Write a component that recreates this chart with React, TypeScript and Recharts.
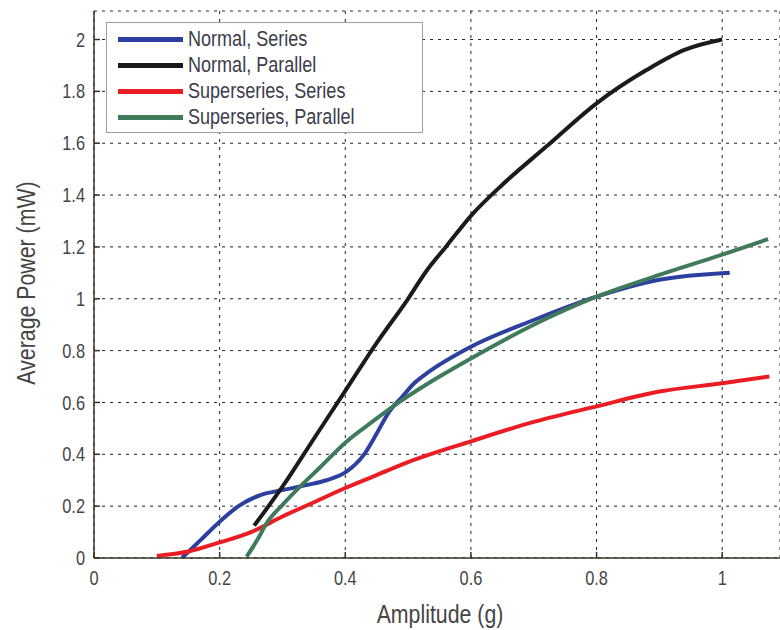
import React from 'react';
import { LineChart, Line, XAxis, YAxis, CartesianGrid, Legend } from 'recharts';

const FONT = '"Liberation Sans", Arial, sans-serif';
const NARROW = 0.82;

const xTicks = [0, 0.2, 0.4, 0.6, 0.8, 1];
const yTicks = [0, 0.2, 0.4, 0.6, 0.8, 1, 1.2, 1.4, 1.6, 1.8, 2];

const seriesNames = ['Normal, Series', 'Normal, Parallel', 'Superseries, Series', 'Superseries, Parallel'];
const seriesColors = ['#2d40a0', '#1b1b1b', '#ec1c24', '#3f7b5a'];

const normalSeriesAmp = [0.14, 0.17, 0.2, 0.23, 0.265, 0.3, 0.34, 0.37, 0.4, 0.43, 0.45, 0.47, 0.49, 0.51, 0.53, 0.6, 0.7, 0.8, 0.9, 1.012];
const normalSeriesPow = [0, 0.07, 0.14, 0.2, 0.243, 0.262, 0.282, 0.3, 0.33, 0.4, 0.48, 0.565, 0.62, 0.675, 0.713, 0.815, 0.918, 1.008, 1.073, 1.1];

const normalParallelAmp = [0.255, 0.3, 0.35, 0.4, 0.45, 0.5, 0.53, 0.56, 0.6, 0.65, 0.72, 0.8, 0.88, 0.94, 1.0];
const normalParallelPow = [0.125, 0.275, 0.46, 0.645, 0.83, 1.0, 1.11, 1.2, 1.32, 1.44, 1.587, 1.754, 1.883, 1.96, 2.0];

const superSeriesAmp = [0.1, 0.15, 0.2, 0.25, 0.3, 0.35, 0.4, 0.45, 0.5, 0.6, 0.7, 0.8, 0.9, 1.0, 1.075];
const superSeriesPow = [0.008, 0.025, 0.06, 0.1, 0.16, 0.215, 0.27, 0.32, 0.37, 0.45, 0.525, 0.585, 0.642, 0.674, 0.7];

const superParallelAmp = [0.243, 0.26, 0.275, 0.3, 0.33, 0.36, 0.4, 0.44, 0.487, 0.55, 0.6, 0.7, 0.8, 0.9, 1.0, 1.073];
const superParallelPow = [0.005, 0.07, 0.135, 0.205, 0.28, 0.35, 0.445, 0.52, 0.603, 0.7, 0.77, 0.9, 1.008, 1.092, 1.17, 1.23];

const zip = (xs: number[], ys: number[]) => xs.map((x, i) => ({ x, y: ys[i] }));

const seriesData = [
  zip(normalSeriesAmp, normalSeriesPow),
  zip(normalParallelAmp, normalParallelPow),
  zip(superSeriesAmp, superSeriesPow),
  zip(superParallelAmp, superParallelPow),
];

const AXIS_COLOR = '#3b3426';
const TEXT_COLOR = '#454545';

const fmt = (v: number) => String(Number(Number(v).toFixed(1)));

const XTick = (props: any) => {
  const { x, y, payload } = props;
  return (
    <g transform={`translate(${x},${y}) scale(${NARROW},1)`}>
      <text x={0} y={0} dy="0.71em" textAnchor="middle" fontSize={20} fontFamily={FONT} fill={TEXT_COLOR}>
        {fmt(payload.value)}
      </text>
    </g>
  );
};

const YTick = (props: any) => {
  const { x, y, payload } = props;
  return (
    <g transform={`translate(${x},${y}) scale(${NARROW},1)`}>
      <text x={0} y={0} dy="0.355em" textAnchor="end" fontSize={20} fontFamily={FONT} fill={TEXT_COLOR}>
        {fmt(payload.value)}
      </text>
    </g>
  );
};

const LegendBox = () => (
  <div
    style={{
      width: 317,
      height: 111,
      boxSizing: 'border-box',
      border: '1.5px solid #a0a0a0',
      background: '#fff',
      paddingTop: 3,
      fontFamily: FONT,
    }}
  >
    {seriesNames.map((n, i) => (
      <div key={n} style={{ display: 'flex', alignItems: 'center', height: 26 }}>
        <div style={{ width: 65, height: 5, marginLeft: 11, background: seriesColors[i], flexShrink: 0 }} />
        <span
          style={{
            marginLeft: 5,
            fontSize: 22,
            color: '#3c3c4a',
            lineHeight: '26px',
            whiteSpace: 'nowrap',
            display: 'inline-block',
            transform: `scaleX(${NARROW})`,
            transformOrigin: 'left center',
          }}
        >
          {n}
        </span>
      </div>
    ))}
  </div>
);

export default function App() {
  return (
    <div style={{ position: 'absolute', left: 0, top: 0, width: 780, height: 630, background: '#fff', fontFamily: FONT }}>
      <LineChart width={780} height={630} margin={{ top: 11, right: 0, bottom: 0, left: 0 }}>
        <CartesianGrid stroke="#222" strokeDasharray="3 5" strokeWidth={1} />
        <XAxis
          xAxisId={0}
          dataKey="x"
          type="number"
          domain={[0, 1.092]}
          allowDataOverflow
          ticks={xTicks}
          height={72}
          stroke={AXIS_COLOR}
          strokeWidth={1.5}
          tickSize={-6}
          tickMargin={19}
          tick={<XTick />}
          label={{
            content: () => (
              <g transform={`translate(440,623) scale(${NARROW},1)`}>
                <text x={0} y={0} textAnchor="middle" fontSize={26} fontFamily={FONT} fill={TEXT_COLOR}>
                  Amplitude (g)
                </text>
              </g>
            ),
          }}
        />
        <XAxis
          xAxisId="top"
          orientation="top"
          type="number"
          domain={[0, 1.092]}
          allowDataOverflow
          ticks={xTicks}
          tickFormatter={() => ''}
          height={0}
          stroke={AXIS_COLOR}
          strokeWidth={1.5}
          tickSize={-6}
        />
        <YAxis
          type="number"
          domain={[0, 2.11]}
          allowDataOverflow
          ticks={yTicks}
          width={94}
          stroke={AXIS_COLOR}
          strokeWidth={1.5}
          tickSize={-6}
          tickMargin={15}
          tick={<YTick />}
          label={{
            content: () => (
              <g transform={`translate(35,283) rotate(-90) scale(${NARROW},1)`}>
                <text x={0} y={0} textAnchor="middle" fontSize={26} fontFamily={FONT} fill={TEXT_COLOR}>
                  Average Power (mW)
                </text>
              </g>
            ),
          }}
        />
        <Legend
          layout="vertical"
          align="center"
          verticalAlign="middle"
          content={() => <LegendBox />}
          wrapperStyle={{ left: 106, top: 22, width: 317, height: 111 }}
        />
        {seriesData.map((d, i) => (
          <Line
            key={seriesNames[i]}
            name={seriesNames[i]}
            data={d}
            dataKey="y"
            type="monotone"
            stroke={seriesColors[i]}
            strokeWidth={4}
            dot={false}
            activeDot={false}
            isAnimationActive={false}
          />
        ))}
      </LineChart>
    </div>
  );
}
